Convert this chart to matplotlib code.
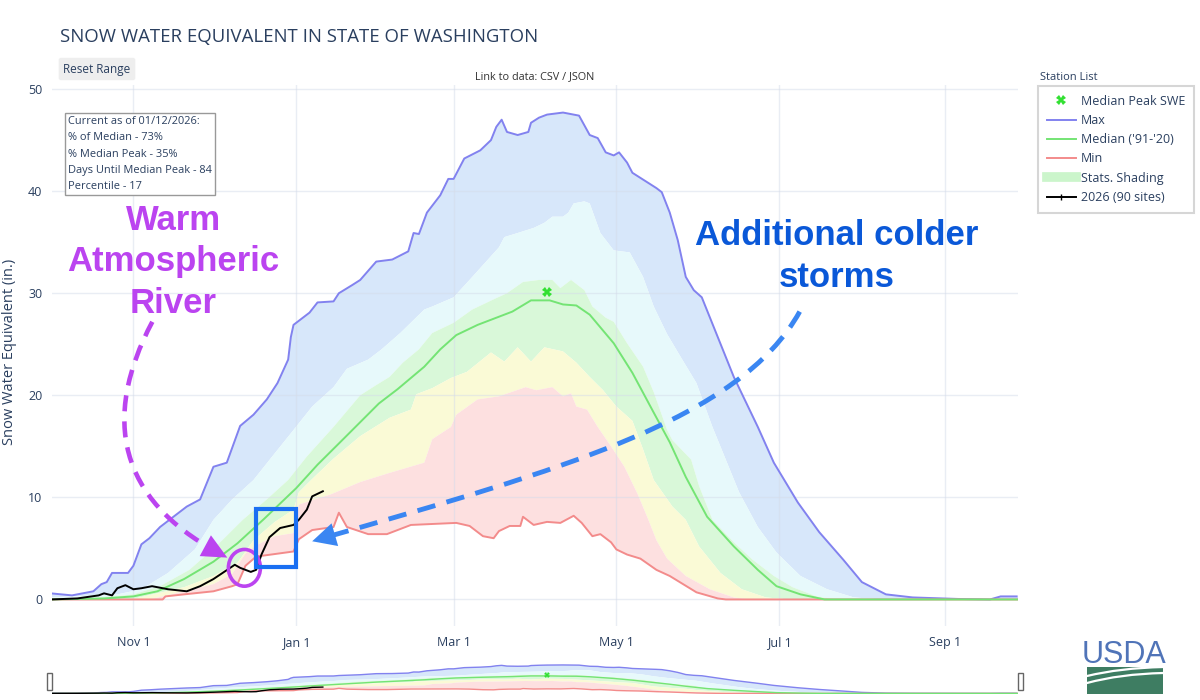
import matplotlib
matplotlib.use("Agg")
import matplotlib.pyplot as plt
from matplotlib.patches import FancyArrowPatch, Ellipse, Rectangle
from matplotlib.path import Path
from matplotlib.lines import Line2D

plt.rcParams['font.family'] = ['Open Sans', 'DejaVu Sans']

# x axis = days since Oct 1 (water year 2026)
tick_days = [31, 92, 151, 212, 273, 335]
tick_labels = ["Nov 1", "Jan 1", "Mar 1", "May 1", "Jul 1", "Sep 1"]
y_ticks = [0, 10, 20, 30, 40, 50]

max_day = [0, 8, 16, 19, 21, 23, 29, 31, 34, 37,
           41, 46, 51, 56, 61, 66, 71, 76, 81, 85,
           89, 90, 91, 97, 100, 106, 108, 113, 116, 122,
           128, 134, 136, 138, 141, 146, 149, 151, 155, 161,
           165, 167, 169, 171, 175, 179, 180, 183, 186, 192,
           198, 202, 205, 208, 211, 213, 216, 218, 227, 229,
           232, 235, 238, 241, 244, 250, 256, 265, 271, 280,
           288, 297, 304, 313, 323, 340, 352, 356, 362]
max_swe = [0.6, 0.4, 0.8, 1.5, 1.7, 2.6, 2.6, 3.3, 5.4, 6.0,
           7.1, 8.1, 9.1, 9.8, 13.0, 13.4, 17.0, 18.1, 19.6, 21.2,
           23.5, 25.7, 26.9, 28.1, 29.1, 29.2, 30.0, 30.8, 31.3, 33.1,
           33.3, 34.1, 35.9, 35.8, 37.9, 39.6, 41.2, 41.2, 43.2, 44.0,
           45.0, 46.3, 47.0, 45.8, 45.5, 45.8, 46.7, 47.2, 47.5, 47.7,
           47.4, 45.5, 45.2, 43.8, 43.5, 43.8, 42.8, 41.8, 40.3, 39.9,
           37.9, 35.2, 31.6, 30.3, 29.6, 25.7, 21.8, 16.9, 13.4, 9.5,
           6.6, 3.9, 1.7, 0.5, 0.2, 0.05, 0.0, 0.3, 0.3]

p90_day = [0, 25, 34, 44, 54, 61, 68, 76, 83, 91,
           98, 106, 111, 119, 124, 131, 140, 143, 151, 158,
           168, 170, 175, 181, 185, 188, 192, 194, 196, 200,
           202, 206, 211, 217, 222, 226, 231, 236, 242, 248,
           253, 258, 265, 272, 281, 291, 301, 311, 364]
p90_swe = [0.2, 0.5, 1.0, 2.6, 4.9, 7.8, 9.8, 11.7, 14.0, 16.6,
           18.9, 20.8, 22.6, 23.5, 24.5, 26.1, 28.4, 28.7, 29.6, 31.6,
           34.5, 35.5, 35.9, 36.4, 36.9, 37.5, 37.5, 37.9, 38.8, 39.0,
           38.8, 35.9, 34.2, 34.0, 31.6, 28.7, 26.0, 23.8, 21.2, 16.9,
           13.7, 10.5, 7.1, 4.6, 2.3, 1.0, 0.2, 0.0, 0.0]

p70_day = [0, 19, 31, 41, 52, 62, 72, 81, 89, 96,
           106, 116, 122, 127, 132, 138, 143, 151, 158, 166,
           171, 177, 183, 188, 191, 195, 200, 203, 208, 211,
           216, 222, 226, 231, 233, 240, 243, 248, 256, 263,
           271, 278, 287, 294, 364]
p70_swe = [0.0, 0.2, 0.5, 1.3, 2.9, 5.2, 7.8, 9.8, 11.7, 14.0,
           16.9, 20.0, 21.0, 21.8, 23.2, 24.5, 26.1, 27.1, 28.4, 29.4,
           30.0, 31.1, 31.3, 31.3, 30.5, 31.3, 30.3, 28.7, 27.6, 27.2,
           25.1, 22.8, 20.3, 16.6, 15.6, 13.7, 11.1, 7.8, 5.6, 3.9,
           2.3, 1.2, 0.3, 0.0, 0.0]

median_day = [0, 10, 20, 31, 40, 50, 61, 70, 80, 92,
              100, 110, 123, 130, 140, 146, 152, 160, 173, 180,
              187, 192, 197, 202, 211, 218, 226, 232, 238, 246,
              256, 265, 272, 281, 290, 364]
median_swe = [0.0, 0.05, 0.1, 0.3, 0.8, 2.0, 3.7, 5.5, 7.9, 10.9,
              13.2, 15.8, 19.2, 20.6, 22.8, 24.5, 25.9, 26.9, 28.2, 29.3,
              29.3, 28.9, 28.8, 27.9, 25.1, 22.2, 18.3, 15.4, 12.0, 8.1,
              5.2, 2.9, 1.3, 0.5, 0.0, 0.0]

p30_day = [0, 30, 50, 61, 70, 76, 84, 91, 93, 98,
           106, 116, 127, 135, 137, 143, 150, 156, 165, 170,
           175, 180, 185, 192, 197, 202, 207, 212, 218, 222,
           226, 233, 238, 243, 251, 259, 268, 277, 364]
p30_swe = [0.0, 0.0, 1.2, 2.3, 3.6, 5.8, 7.6, 8.8, 10.5, 11.8,
           13.8, 16.0, 17.8, 18.6, 20.1, 20.7, 21.7, 22.3, 24.2, 23.3,
           24.7, 23.3, 24.7, 24.3, 23.2, 21.8, 20.5, 18.9, 17.5, 14.7,
           11.7, 9.1, 7.8, 5.2, 2.6, 1.0, 0.2, 0.0, 0.0]

p10_day = [0, 37, 50, 61, 68, 73, 77, 84, 91, 93,
           105, 116, 127, 140, 143, 150, 152, 160, 168, 178,
           182, 188, 192, 195, 197, 201, 205, 210, 215, 220,
           224, 227, 231, 238, 247, 256, 262, 364]
p10_swe = [0.0, 0.0, 0.8, 1.5, 2.5, 4.5, 5.3, 6.2, 6.5, 9.3,
           10.3, 11.5, 12.4, 13.4, 15.7, 16.9, 18.1, 19.6, 19.9, 20.8,
           20.5, 20.8, 19.9, 20.2, 18.9, 18.6, 16.9, 15.0, 13.0, 10.3,
           7.8, 5.8, 4.0, 2.3, 1.0, 0.2, 0.0, 0.0]

min_day = [0, 42, 43, 50, 61, 68, 70, 73, 77, 91,
           93, 98, 106, 108, 111, 119, 126, 135, 152, 157,
           162, 166, 168, 172, 176, 177, 181, 186, 191, 196,
           199, 203, 206, 210, 212, 216, 221, 227, 232, 242,
           250, 253, 364]
min_swe = [0.0, 0.0, 0.3, 0.5, 0.8, 1.3, 1.5, 3.3, 4.2, 4.7,
           5.9, 6.8, 7.1, 8.5, 7.1, 6.4, 6.4, 7.3, 7.5, 7.2,
           6.2, 6.0, 6.7, 7.2, 7.2, 8.1, 7.3, 7.6, 7.5, 8.2,
           7.5, 6.2, 6.4, 5.6, 4.9, 4.4, 4.0, 2.9, 2.3, 0.7,
           0.1, 0.0, 0.0]

# 2026 (90 sites), up to 01/12/2026
cur_day = [0, 10, 18, 20, 23, 25, 28, 31, 34, 38,
           44, 51, 56, 61, 65, 69, 71, 75, 77, 79,
           82, 86, 91, 93, 96, 98, 102]
cur_swe = [0.0, 0.1, 0.4, 0.6, 0.4, 1.1, 1.4, 1.0, 1.1, 1.3,
           1.0, 0.8, 1.3, 2.0, 2.7, 3.4, 3.1, 2.7, 2.9, 4.4,
           6.1, 7.0, 7.3, 7.8, 8.8, 10.1, 10.6]

peak_day = [186]
peak_swe = [30.1]

info_lines = ["Current as of 01/12/2026:", "% of Median - 73%", "% Median Peak - 35%",
              "Days Until Median Peak - 84", "Percentile - 17"]

TXT = '#2a3f5f'
C_MAX = '#8282ef'
C_MED = '#74e474'
C_MIN = '#f38b8b'
C_BLUE = '#d7e7fa'
C_CYAN = '#e7f9fb'
C_GREEN = '#d9f8d9'
C_YELLOW = '#fafad6'
C_RED = '#fde0e0'
PURPLE = '#bb44f0'
BLUE = '#3a86f2'


def px(x, y):
    return x / 1200, 1 - y / 700


def band(a, up_d, up_v, lo_d, lo_v, color):
    a.fill(list(up_d) + list(lo_d)[::-1], list(up_v) + list(lo_v)[::-1],
           color=color, lw=0, zorder=1)


def draw_stats(a, lw, ms):
    band(a, max_day, max_swe, p90_day, p90_swe, C_BLUE)
    band(a, p90_day, p90_swe, p70_day, p70_swe, C_CYAN)
    band(a, p70_day, p70_swe, p30_day, p30_swe, C_GREEN)
    band(a, p30_day, p30_swe, p10_day, p10_swe, C_YELLOW)
    band(a, p10_day, p10_swe, min_day, min_swe, C_RED)
    a.plot(max_day, max_swe, color=C_MAX, lw=lw, zorder=3)
    a.plot(min_day, min_swe, color=C_MIN, lw=lw, zorder=3)
    a.plot(median_day, median_swe, color=C_MED, lw=lw, zorder=3)
    a.plot(cur_day, cur_swe, color='black', lw=lw, zorder=4)
    a.plot(peak_day, peak_swe, 'X', color='#33e033', ms=ms, mew=0, zorder=5)


def dashed_arrow(a, pts, head_from, color, lw, dash, hl, hw):
    # dashed bezier body plus a solid filled head
    body = Path(pts, [Path.MOVETO, Path.CURVE4, Path.CURVE4, Path.CURVE4])
    a.add_patch(FancyArrowPatch(path=body, arrowstyle='-', lw=lw, color=color,
                                linestyle=(0, dash), capstyle='butt', zorder=6))
    a.add_patch(FancyArrowPatch(posA=head_from[0], posB=head_from[1],
                                arrowstyle=f'-|>,head_length={hl},head_width={hw}',
                                mutation_scale=1, shrinkA=0, shrinkB=0,
                                lw=0, color=color, zorder=6))


fig = plt.figure(figsize=(12, 7), dpi=100)
ax = fig.add_axes([52 / 1200, 1 - 626 / 700, 966 / 1200, 541 / 700])
draw_stats(ax, 1.4, 7)
ax.set_xlim(0.5, 362.5)
ax.set_ylim(-2.6, 50.4)
ax.set_xticks(tick_days, tick_labels)
ax.set_yticks(y_ticks)
ax.set_axisbelow('line')
ax.grid(color='#d5dcea', alpha=0.5, lw=1)
ax.tick_params(length=0, labelsize=9, colors=TXT, pad=7)
for s in ax.spines.values():
    s.set_visible(False)

# annotations
ax.text(45.9, 33.1, "Warm\nAtmospheric\nRiver", ha='center', va='center',
        fontsize=25, fontweight='bold', color=PURPLE, family='Liberation Sans',
        linespacing=1.33, zorder=6)
ax.text(294.6, 33.6, "Additional colder\nstorms", ha='center', va='center',
        fontsize=25, fontweight='bold', color='#0a58d8', family='Liberation Sans',
        linespacing=1.33, zorder=6)

dashed_arrow(ax, [(38.1, 27.2), (18.6, 17.6), (26.1, 9.8), (62.3, 4.66)],
             [(56.3, 5.5), (66.2, 4.1)], PURPLE, 3.3, (3.5, 2.2), 18, 8.5)
dashed_arrow(ax, [(280.7, 28.2), (258.3, 17.6), (190.9, 12.7), (102.3, 6.03)],
             [(108.8, 6.52), (98.0, 5.7)], BLUE, 3.5, (3.8, 2.4), 17, 8.5)
ax.add_patch(Ellipse((72.6, 3.1), 12.0, 3.6, fill=False, ec=PURPLE, lw=2.6, zorder=6))
ax.add_patch(Rectangle((77.1, 3.2), 14.9, 5.7, fill=False, ec='#1a6ff2', lw=3.0, zorder=6))

# range slider
ax2 = fig.add_axes([52 / 1200, 1 - 694 / 700, 966 / 1200, 34 / 700])
draw_stats(ax2, 1.0, 4)
ax2.set_xlim(0.5, 362.5)
ax2.set_ylim(-1, 56)
ax2.axis('off')
for hx in (47, 1018):
    fig.patches.append(Rectangle(px(hx, 690), 5 / 1200, 17 / 700, transform=fig.transFigure,
                                 fc='white', ec='#666666', lw=1))

# texts
fig.text(*px(60, 37), "SNOW WATER EQUIVALENT IN STATE OF WASHINGTON", fontsize=13.4,
         color=TXT, va='center', ha='left')
fig.text(*px(97, 69), "Reset Range", fontsize=8.5, color=TXT, ha='center', va='center',
         bbox=dict(boxstyle='round,pad=0.4,rounding_size=0.2', fc='#eeeeee', ec='none'))
fig.text(*px(535, 77), "Link to data: CSV / JSON", fontsize=7.8, color='#333333',
         ha='center', va='center')
fig.text(*px(10, 352), "Snow Water Equivalent (in.)", fontsize=10.5, color=TXT,
         rotation=90, ha='center', va='center')
fig.text(*px(68, 116), "\n".join(info_lines), fontsize=7.9, color=TXT, ha='left', va='top',
         linespacing=1.66,
         bbox=dict(boxstyle='square,pad=0.3', fc='white', ec='#999999', lw=1))

# legend
fig.text(*px(1040, 77), "Station List", fontsize=8, color=TXT, va='center')
handles = [
    Line2D([], [], marker='X', color='#33e033', ls='None', ms=7, mew=0, label='Median Peak SWE'),
    Line2D([], [], color=C_MAX, lw=1.4, label='Max'),
    Line2D([], [], color=C_MED, lw=1.4, label="Median ('91-'20)"),
    Line2D([], [], color=C_MIN, lw=1.4, label='Min'),
    Line2D([], [], color='#cbf5cb', lw=7, label='Stats. Shading'),
    Line2D([], [], color='black', lw=1.4, marker='|', ms=4, label='2026 (90 sites)'),
]
leg = fig.legend(handles=handles, loc='upper left', bbox_to_anchor=px(1038, 86),
                 fontsize=9, frameon=True, fancybox=False, handlelength=2.3,
                 labelspacing=0.5, borderpad=0.7, handletextpad=0.45, borderaxespad=0)
leg.get_frame().set_edgecolor('#cccccc')
leg.get_frame().set_linewidth(1.5)
for t in leg.get_texts():
    t.set_color(TXT)

# USDA logo
fig.text(*px(1124, 655), "USDA", fontsize=22, color='#5074b8', ha='center', va='center',
         family=['Liberation Sans Narrow', 'Liberation Sans'])
fig.patches.append(Rectangle(px(1087, 694), 76 / 1200, 27 / 700, transform=fig.transFigure,
                             fc='#3e7d62', ec='none'))
for yy, cy in ((676, 668), (683, 674)):
    wave = Path([px(1087, yy), px(1120, cy), px(1163, cy - 1)],
                [Path.MOVETO, Path.CURVE3, Path.CURVE3])
    fig.patches.append(FancyArrowPatch(path=wave, arrowstyle='-', color='white', lw=1.6,
                                       transform=fig.transFigure))

fig.savefig("out.png", dpi=100)
